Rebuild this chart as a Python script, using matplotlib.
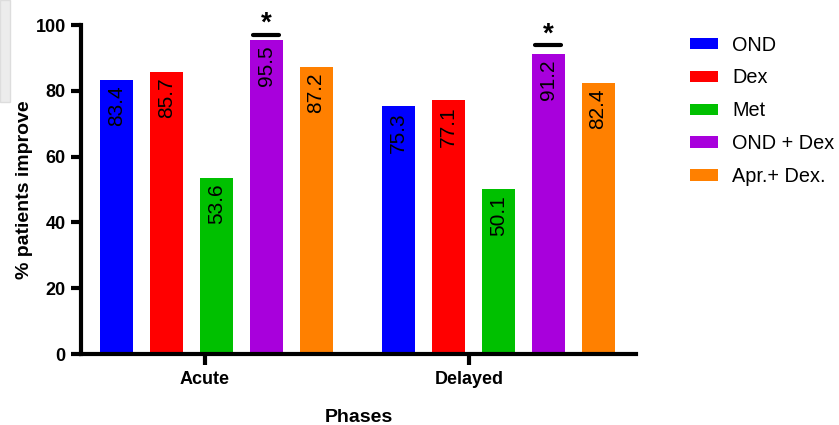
import numpy as np
import matplotlib.pyplot as plt
from matplotlib.patches import Rectangle

plt.rcParams['font.family'] = ['Liberation Sans', 'DejaVu Sans']

# data
phases = ['Acute', 'Delayed']
treatments = ['OND', 'Dex', 'Met', 'OND + Dex', 'Apr.+ Dex.']
colors = ['#0000ff', '#ff0000', '#00c000', '#a800dc', '#ff8000']
acute = [83.4, 85.7, 53.6, 95.5, 87.2]
delayed = [75.3, 77.1, 50.1, 91.2, 82.4]
values = [acute, delayed]
sig_treatment = 'OND + Dex'

fig = plt.figure(figsize=(8.39, 4.25), dpi=100)
# light grey box in the top-left corner
fig.patches.append(Rectangle((0, 0.76), 0.012, 0.24, transform=fig.transFigure,
                             facecolor='#ececec', edgecolor='#dddddd', lw=1))
ax = fig.add_axes([0.0965, 0.167, 0.6615, 0.774])

group_start = [0, 5.65]
tick_pos = [1.77, 7.06]
width = 0.66

for g, vals in enumerate(values):
    for i, v in enumerate(vals):
        x = group_start[g] + i
        ax.bar(x, v, width=width, color=colors[i], label=treatments[i] if g == 0 else None)
        ax.annotate(f'{v:.1f}', (x, v), xytext=(0, -4), textcoords='offset points',
                    rotation=90, ha='center', va='top', fontsize=15)
        if treatments[i] == sig_treatment:
            top = v + 1.6 if g == 0 else v + 2.7
            ax.plot([x - 0.26, x + 0.26], [top, top], color='black', lw=3,
                    solid_capstyle='round', clip_on=False)
            ax.text(x, top - 0.7, '*', ha='center', va='bottom', fontsize=20,
                    fontweight='bold', clip_on=False)

ax.set_xlim(-0.71, 10.41)
ax.set_ylim(0, 100)
ax.set_yticks([0, 20, 40, 60, 80, 100])
ax.set_xticks(tick_pos)
ax.set_xticklabels(phases, fontsize=13, fontweight='bold')
for lab in ax.get_yticklabels():
    lab.set_fontsize(13)
    lab.set_fontweight('bold')
ax.tick_params(axis='both', width=3, length=7, pad=4)
ax.tick_params(axis='x', length=8)
ax.set_ylabel('% patients improve', fontsize=14, fontweight='bold', labelpad=2)
ax.set_xlabel('Phases', fontsize=14, fontweight='bold', labelpad=15)
for s in ['top', 'right']:
    ax.spines[s].set_visible(False)
for s in ['left', 'bottom']:
    ax.spines[s].set_linewidth(3)

ax.legend(loc='upper left', bbox_to_anchor=(0.813, 0.935), bbox_transform=fig.transFigure,
          frameon=False, fontsize=14.3, handlelength=1.4, handleheight=0.52,
          handletextpad=0.72, labelspacing=0.7, borderaxespad=0)

plt.savefig('out.png', dpi=100)
